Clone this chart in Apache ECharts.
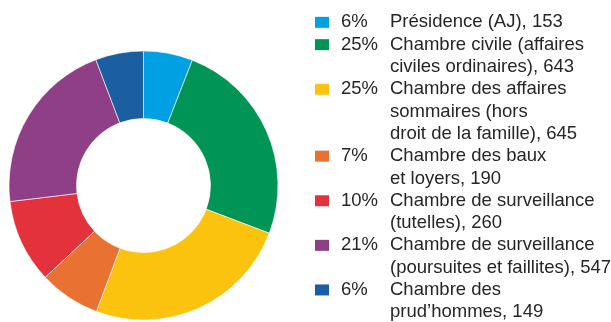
<!DOCTYPE html>
<html>
<head>
<meta charset="utf-8">
<script src="https://cdn.jsdelivr.net/npm/echarts@6/dist/echarts.min.js"></script>
<style>
  html, body { margin: 0; padding: 0; background: #fff; }
  #chart { width: 611px; height: 322px; }
</style>
</head>
<body>
<div id="chart"></div>
<script>
// Chambres du tribunal, affaires traitées
const categories = [
  'Présidence (AJ)',
  'Chambre civile (affaires civiles ordinaires)',
  'Chambre des affaires sommaires (hors droit de la famille)',
  'Chambre des baux et loyers',
  'Chambre de surveillance (tutelles)',
  'Chambre de surveillance (poursuites et faillites)',
  'Chambre des prud’hommes'
];
const values = [153, 643, 645, 190, 260, 547, 149];
const percents = ['6%', '25%', '25%', '7%', '10%', '21%', '6%'];
// legend text, broken into its printed lines
const legendLines = [
  ['Présidence (AJ), 153'],
  ['Chambre civile (affaires', 'civiles ordinaires), 643'],
  ['Chambre des affaires', 'sommaires (hors', 'droit de la famille), 645'],
  ['Chambre des baux', 'et loyers, 190'],
  ['Chambre de surveillance', '(tutelles), 260'],
  ['Chambre de surveillance', '(poursuites et faillites), 547'],
  ['Chambre des', 'prud’hommes, 149']
];
const colors = ['#00A0E2', '#009456', '#FBC30E', '#E97131', '#E4323C', '#8F3F85', '#1C5EA2'];

const chart = echarts.init(document.getElementById('chart'), null, { renderer: 'canvas' });

const FONT = '"Liberation Sans", Arial, sans-serif';
const LH = 22.3;
const TXT = '#262626';
const rich = {
  gp: { width: 12, height: 11 },
  pc: { width: 49, fontSize: 18.5, fontFamily: FONT, color: TXT, lineHeight: LH },
  lb: { fontSize: 18.5, fontFamily: FONT, color: TXT, lineHeight: LH },
  in: { width: 75, height: 11, lineHeight: LH }
};
colors.forEach((c, i) => {
  rich['sq' + i] = { width: 14, height: 11, backgroundColor: c, lineHeight: LH };
});

chart.setOption({
  animation: false,
  color: colors,
  legend: {
    orient: 'vertical',
    left: 309,
    top: 11.2,
    height: 360,
    padding: 0,
    itemGap: 0,
    itemWidth: 0,
    itemHeight: 0,
    icon: 'rect',
    itemStyle: { opacity: 0 },
    selectedMode: false,
    data: categories,
    textStyle: { fontSize: 18.5, fontFamily: FONT, color: TXT, lineHeight: LH, rich: rich },
    formatter: function (name) {
      const i = categories.indexOf(name);
      const lines = legendLines[i];
      let s = '{sq' + i + '|}{gp|}{pc|' + percents[i] + '}{lb|' + lines[0] + '}';
      for (let k = 1; k < lines.length; k++) {
        s += '\n{in|}{lb|' + lines[k] + '}';
      }
      return s;
    }
  },
  series: [{
    type: 'pie',
    center: [143.5, 185.5],
    radius: [67, 134.5],
    startAngle: 90,
    clockwise: true,
    label: { show: false },
    labelLine: { show: false },
    emphasis: { disabled: true },
    itemStyle: { borderColor: '#ffffff', borderWidth: 0.6 },
    data: categories.map((n, i) => ({ name: n, value: values[i] }))
  }]
});
</script>
</body>
</html>
